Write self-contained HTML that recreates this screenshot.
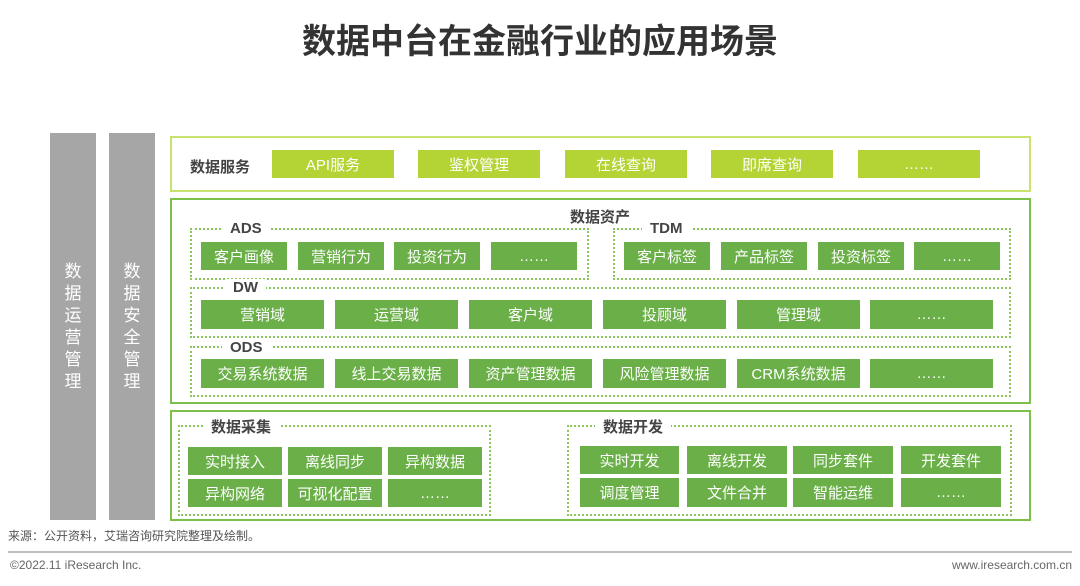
<!DOCTYPE html>
<html><head><meta charset="utf-8"><style>
*{margin:0;padding:0;box-sizing:border-box}
body{width:1080px;height:586px;background:#fff;position:relative;overflow:hidden;font-family:"Liberation Sans","Noto Sans CJK SC",sans-serif}
div{position:absolute}
.b{color:#fff;font-size:15px;display:flex;align-items:center;justify-content:center;background:#6aaf47}
.l{background:#b4d335}
.d{border:2px dotted #8cc65a}
.t{font-weight:bold;color:#444;font-size:15px;background:#fff;padding:0 8px;line-height:18px}
.g{background:#a6a6a6;color:#fff;font-size:17px;line-height:22px;width:46px;top:133px;height:387px;display:flex;align-items:center;justify-content:center;text-align:center}
</style></head><body>
<div style="left:0;width:1080px;top:14px;text-align:center;font-size:34px;font-weight:bold;color:#333">数据中台在金融行业的应用场景</div>
<div class="g" style="left:50px"><span style="width:18px">数据运营管理</span></div>
<div class="g" style="left:109px"><span style="width:18px">数据安全管理</span></div>

<div style="left:170px;top:136px;width:861px;height:56px;border:2px solid #c8e26e"></div>
<div style="left:190px;top:156px;font-size:15px;font-weight:bold;color:#444">数据服务</div>
<div class="b l" style="left:272px;top:150px;width:122px;height:28px">API服务</div>
<div class="b l" style="left:418px;top:150px;width:122px;height:28px">鉴权管理</div>
<div class="b l" style="left:565px;top:150px;width:122px;height:28px">在线查询</div>
<div class="b l" style="left:711px;top:150px;width:122px;height:28px">即席查询</div>
<div class="b l" style="left:858px;top:150px;width:122px;height:28px">……</div>

<div style="left:170px;top:198px;width:861px;height:206px;border:2px solid #7cc04a"></div>
<div style="left:570px;top:206px;font-size:15px;font-weight:bold;color:#444">数据资产</div>

<div class="d" style="left:190px;top:228px;width:399px;height:52px"></div>
<div class="t" style="left:222px;top:220px">ADS</div>
<div class="b" style="left:201px;top:242px;width:86px;height:28px">客户画像</div>
<div class="b" style="left:298px;top:242px;width:86px;height:28px">营销行为</div>
<div class="b" style="left:394px;top:242px;width:86px;height:28px">投资行为</div>
<div class="b" style="left:491px;top:242px;width:86px;height:28px">……</div>

<div class="d" style="left:613px;top:228px;width:398px;height:52px"></div>
<div class="t" style="left:642px;top:220px">TDM</div>
<div class="b" style="left:624px;top:242px;width:86px;height:28px">客户标签</div>
<div class="b" style="left:721px;top:242px;width:86px;height:28px">产品标签</div>
<div class="b" style="left:818px;top:242px;width:86px;height:28px">投资标签</div>
<div class="b" style="left:914px;top:242px;width:86px;height:28px">……</div>

<div class="d" style="left:190px;top:287px;width:821px;height:51px"></div>
<div class="t" style="left:225px;top:279px">DW</div>
<div class="b" style="left:201px;top:300px;width:123px;height:29px">营销域</div>
<div class="b" style="left:335px;top:300px;width:123px;height:29px">运营域</div>
<div class="b" style="left:469px;top:300px;width:123px;height:29px">客户域</div>
<div class="b" style="left:603px;top:300px;width:123px;height:29px">投顾域</div>
<div class="b" style="left:737px;top:300px;width:123px;height:29px">管理域</div>
<div class="b" style="left:870px;top:300px;width:123px;height:29px">……</div>

<div class="d" style="left:190px;top:346px;width:821px;height:51px"></div>
<div class="t" style="left:222px;top:339px">ODS</div>
<div class="b" style="left:201px;top:359px;width:123px;height:29px">交易系统数据</div>
<div class="b" style="left:335px;top:359px;width:123px;height:29px">线上交易数据</div>
<div class="b" style="left:469px;top:359px;width:123px;height:29px">资产管理数据</div>
<div class="b" style="left:603px;top:359px;width:123px;height:29px">风险管理数据</div>
<div class="b" style="left:737px;top:359px;width:123px;height:29px">CRM系统数据</div>
<div class="b" style="left:870px;top:359px;width:123px;height:29px">……</div>

<div style="left:170px;top:410px;width:861px;height:111px;border:2px solid #7cc04a"></div>
<div class="d" style="left:178px;top:425px;width:313px;height:91px"></div>
<div class="t" style="left:203px;top:419px">数据采集</div>
<div class="b" style="left:188px;top:447px;width:94px;height:28px">实时接入</div>
<div class="b" style="left:288px;top:447px;width:94px;height:28px">离线同步</div>
<div class="b" style="left:388px;top:447px;width:94px;height:28px">异构数据</div>
<div class="b" style="left:188px;top:479px;width:94px;height:28px">异构网络</div>
<div class="b" style="left:288px;top:479px;width:94px;height:28px">可视化配置</div>
<div class="b" style="left:388px;top:479px;width:94px;height:28px">……</div>

<div class="d" style="left:567px;top:425px;width:445px;height:91px"></div>
<div class="t" style="left:595px;top:419px">数据开发</div>
<div class="b" style="left:580px;top:446px;width:99px;height:28px">实时开发</div>
<div class="b" style="left:687px;top:446px;width:100px;height:28px">离线开发</div>
<div class="b" style="left:793px;top:446px;width:100px;height:28px">同步套件</div>
<div class="b" style="left:901px;top:446px;width:100px;height:28px">开发套件</div>
<div class="b" style="left:580px;top:478px;width:99px;height:29px">调度管理</div>
<div class="b" style="left:687px;top:478px;width:100px;height:29px">文件合并</div>
<div class="b" style="left:793px;top:478px;width:100px;height:29px">智能运维</div>
<div class="b" style="left:901px;top:478px;width:100px;height:29px">……</div>

<div style="left:8px;top:527px;font-size:12px;color:#555">来源：公开资料，艾瑞咨询研究院整理及绘制。</div>
<div style="left:8px;top:551px;width:1064px;height:2px;background:#c0c0c0"></div>
<div style="left:10px;top:558px;font-size:12px;color:#666">©2022.11 iResearch Inc.</div>
<div style="right:8px;top:558px;font-size:12px;color:#666">www.iresearch.com.cn</div>
</body></html>
